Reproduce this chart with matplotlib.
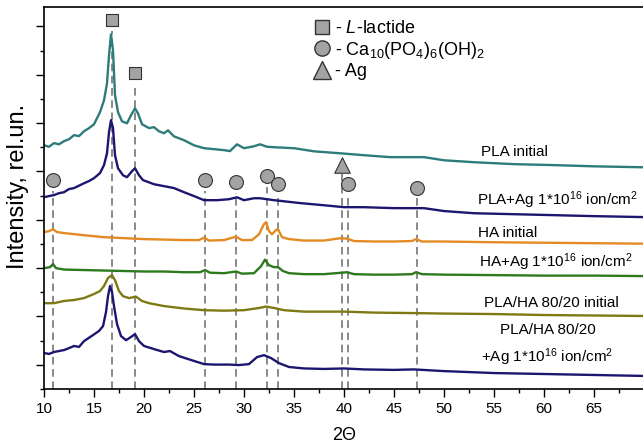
import matplotlib
matplotlib.use('Agg')
import matplotlib.pyplot as plt
from matplotlib.lines import Line2D

plt.rcParams['font.family'] = ['Liberation Sans', 'DejaVu Sans']
plt.rcParams['mathtext.fontset'] = 'custom'
plt.rcParams['mathtext.rm'] = 'Liberation Sans'
plt.rcParams['mathtext.it'] = 'Liberation Sans:italic'

# PLA initial
x_pla = [10.0, 10.5, 11.0, 11.5, 12.0, 12.5, 13.0, 13.5, 14.0, 14.5, 15.0, 15.6, 16.0, 16.3,
         16.5, 16.7, 16.9, 17.1, 17.4, 17.8, 18.3, 18.7, 19.1, 19.4, 19.8, 20.5, 21.0, 21.5,
         22.0, 22.4, 23.0, 24.0, 25.0, 26.0, 27.0, 28.0, 28.6, 29.3, 30.0, 31.0, 31.6, 32.3,
         33.0, 35.0, 37.0, 39.6, 42.0, 44.6, 48.0, 50.0, 53.0, 57.0, 61.0, 65.0, 70.0]
y_pla = [10.08, 10.02, 10.17, 10.12, 10.25, 10.33, 10.50, 10.46, 10.66, 10.79, 10.95, 11.45, 11.94, 12.64,
         13.80, 14.67, 14.01, 12.15, 11.45, 11.07, 10.99, 11.32, 11.61, 11.40, 10.95, 10.79, 10.83, 10.66,
         10.58, 10.70, 10.45, 10.29, 10.08, 9.96, 9.92, 9.88, 9.84, 10.12, 9.96, 10.04, 10.12, 10.02,
         10.00, 9.96, 9.83, 9.75, 9.67, 9.59, 9.59, 9.46, 9.38, 9.30, 9.26, 9.21, 9.17]

# PLA + Ag
x_pla_ag = [10.0, 10.5, 11.0, 11.5, 12.0, 12.5, 13.0, 14.0, 14.5, 15.0, 15.6, 16.0, 16.3, 16.5,
            16.7, 16.9, 17.1, 17.4, 17.9, 18.3, 18.8, 19.1, 19.5, 19.9, 21.0, 22.0, 23.0, 24.0,
            25.0, 26.0, 27.3, 28.5, 29.3, 30.0, 31.0, 31.6, 33.0, 35.6, 38.0, 40.0, 42.0, 45.0,
            48.0, 50.0, 53.0, 57.0, 61.0, 65.0, 70.0]
y_pla_ag = [7.93, 7.98, 8.02, 8.10, 8.14, 8.27, 8.31, 8.51, 8.60, 8.72, 8.93, 9.26, 9.75, 10.62,
            11.12, 10.79, 9.67, 9.13, 8.84, 8.76, 9.01, 9.13, 8.84, 8.64, 8.47, 8.39, 8.31, 8.14,
            7.98, 7.81, 7.81, 7.85, 7.93, 7.81, 7.89, 7.89, 7.81, 7.69, 7.60, 7.52, 7.52, 7.48,
            7.48, 7.36, 7.27, 7.23, 7.19, 7.15, 7.11]

# HA initial
x_ha = [10.0, 10.5, 10.9, 11.3, 12.0, 14.0, 16.0, 18.0, 20.0, 22.0, 24.0, 25.5, 26.0, 26.5,
        28.0, 29.2, 29.8, 30.8, 31.5, 32.0, 32.2, 32.5, 32.8, 33.2, 33.4, 33.8, 34.5, 36.0,
        38.0, 39.7, 40.3, 41.0, 43.0, 45.0, 46.8, 47.2, 47.8, 50.0, 55.0, 60.0, 65.0, 70.0]
y_ha = [6.49, 6.53, 6.61, 6.49, 6.45, 6.36, 6.28, 6.24, 6.20, 6.18, 6.16, 6.16, 6.26, 6.14,
        6.16, 6.30, 6.16, 6.16, 6.40, 6.82, 6.90, 6.53, 6.40, 6.57, 6.61, 6.28, 6.20, 6.14,
        6.14, 6.24, 6.22, 6.12, 6.10, 6.10, 6.12, 6.20, 6.10, 6.10, 6.07, 6.05, 6.03, 6.01]

# HA + Ag
x_ha_ag = [10.0, 10.6, 10.9, 11.2, 12.0, 14.0, 16.0, 18.0, 20.0, 22.0, 24.0, 25.6, 26.1, 26.6,
           28.0, 29.2, 29.8, 31.0, 31.7, 32.1, 32.5, 33.0, 33.4, 33.9, 34.5, 36.0, 38.0, 39.8,
           40.3, 41.0, 43.0, 45.0, 46.8, 47.2, 47.8, 50.0, 55.0, 60.0, 65.0, 70.0]
y_ha_ag = [5.00, 5.04, 5.17, 5.00, 4.94, 4.92, 4.90, 4.88, 4.86, 4.86, 4.83, 4.83, 4.92, 4.81,
           4.79, 4.86, 4.77, 4.79, 5.08, 5.35, 5.12, 5.04, 5.04, 4.88, 4.79, 4.75, 4.75, 4.81,
           4.83, 4.75, 4.73, 4.73, 4.75, 4.83, 4.75, 4.73, 4.71, 4.69, 4.69, 4.67]

# PLA/HA 80/20 initial
x_mix = [10.0, 11.0, 12.0, 13.0, 14.0, 15.0, 15.6, 16.0, 16.4, 16.8, 17.1, 17.5, 17.9, 18.5,
         19.2, 19.8, 20.5, 22.0, 24.0, 26.0, 28.0, 30.0, 31.5, 32.2, 33.0, 34.0, 36.0, 38.0,
         40.0, 43.0, 47.0, 50.0, 55.0, 60.0, 65.0, 70.0]
y_mix = [3.55, 3.55, 3.64, 3.68, 3.76, 3.93, 4.05, 4.26, 4.59, 4.71, 4.50, 4.05, 3.84, 3.76,
         3.82, 3.64, 3.55, 3.43, 3.33, 3.26, 3.24, 3.26, 3.35, 3.41, 3.35, 3.26, 3.20, 3.20,
         3.20, 3.16, 3.14, 3.12, 3.10, 3.06, 3.04, 3.02]

# PLA/HA 80/20 + Ag
x_mix_ag = [10.0, 10.5, 11.0, 11.5, 12.0, 12.5, 13.0, 13.5, 14.0, 14.9, 15.5, 15.9, 16.2, 16.4,
            16.6, 16.8, 17.0, 17.3, 17.7, 18.2, 18.7, 19.1, 19.5, 20.0, 21.0, 22.0, 22.6, 23.5,
            25.0, 26.0, 27.0, 28.5, 29.5, 30.5, 31.3, 32.0, 32.7, 33.5, 34.5, 36.0, 38.0, 40.0,
            42.0, 45.0, 47.0, 50.0, 55.0, 60.0, 65.0, 70.0]
y_mix_ag = [1.49, 1.45, 1.53, 1.57, 1.61, 1.69, 1.78, 1.74, 1.98, 2.23, 2.40, 2.60, 3.18, 3.84,
            4.26, 4.01, 3.43, 2.69, 2.19, 2.02, 2.15, 2.27, 1.98, 1.78, 1.65, 1.53, 1.57, 1.36,
            1.16, 1.03, 1.01, 1.01, 0.99, 1.03, 1.32, 1.40, 1.28, 1.07, 0.91, 0.85, 0.83, 0.85,
            0.81, 0.79, 0.81, 0.74, 0.66, 0.62, 0.58, 0.54]

# phase markers: position (2theta) and marker height
lactide_pos = [16.75, 19.1]
lactide_h = [15.27, 13.07]
ha_pos = [10.9, 26.1, 29.15, 32.25, 33.35, 40.4, 47.25]
ha_h = [8.66, 8.64, 8.57, 8.82, 8.49, 8.47, 8.33]
ag_pos = [39.8]
ag_h = [9.26]

curve_labels = ['PLA initial',
                'PLA+Ag 1*10$^{16}$ ion/cm$^2$',
                'HA initial',
                'HA+Ag 1*10$^{16}$ ion/cm$^2$',
                'PLA/HA 80/20 initial',
                'PLA/HA 80/20\n+Ag 1*10$^{16}$ ion/cm$^2$']
label_x = [57.0, 61.4, 56.35, 61.15, 60.7, 60.35]
label_y = [9.79, 7.81, 6.46, 5.26, 3.57, 1.78]

navy = '#1c1670'
colors = ['#2e7b7b', navy, '#e38b22', '#2d7a1e', '#7d7a14', navy]
series = [(x_pla, y_pla), (x_pla_ag, y_pla_ag), (x_ha, y_ha),
          (x_ha_ag, y_ha_ag), (x_mix, y_mix), (x_mix_ag, y_mix_ag)]

fig = plt.figure(figsize=(6.43, 4.45), dpi=100)
ax = fig.add_axes([44 / 643, 56 / 445, 600 / 643, 382 / 445])

marker_fill = '#a3a3a3'
marker_edge = '#333333'
dash_color = '#6a6a6a'

# dashed drop lines from each marker down to the axis
gap = 0.45
ax.vlines(lactide_pos, 0, [h - gap for h in lactide_h], colors=dash_color,
          linestyles=(0, (5, 3)), linewidth=1.1, zorder=1)
ax.vlines(ha_pos, 0, [h - gap for h in ha_h], colors=dash_color,
          linestyles=(0, (5, 3)), linewidth=1.1, zorder=1)
ax.vlines(ag_pos, 0, [h - 0.35 for h in ag_h], colors=dash_color,
          linestyles=(0, (5, 3)), linewidth=1.1, zorder=1)

for (xs, ys), c in zip(series, colors):
    ax.plot(xs, ys, color=c, linewidth=1.7, zorder=2)

ax.scatter(lactide_pos, lactide_h, marker='s', s=85, facecolor=marker_fill,
           edgecolor=marker_edge, linewidth=0.8, zorder=3)
ax.scatter(ha_pos, ha_h, marker='o', s=100, facecolor=marker_fill,
           edgecolor=marker_edge, linewidth=0.8, zorder=3)
ax.scatter(ag_pos, ag_h, marker='^', s=125, facecolor=marker_fill,
           edgecolor=marker_edge, linewidth=0.8, zorder=3)

for txt, lx, ly in zip(curve_labels, label_x, label_y):
    ax.text(lx, ly, txt, fontsize=11, ha='center', va='center', linespacing=1.6)

# legend of phases
handles = [Line2D([], [], linestyle='none', marker='s', markersize=10,
                  markerfacecolor=marker_fill, markeredgecolor=marker_edge),
           Line2D([], [], linestyle='none', marker='o', markersize=11,
                  markerfacecolor=marker_fill, markeredgecolor=marker_edge),
           Line2D([], [], linestyle='none', marker='^', markersize=13,
                  markerfacecolor=marker_fill, markeredgecolor=marker_edge)]
names = [r'- $\mathit{L}$-lactide', r'- Ca$_{10}$(PO$_4$)$_6$(OH)$_2$', '- Ag']
ax.legend(handles, names, loc='upper left', bbox_to_anchor=(0.44, 0.985),
          frameon=False, fontsize=13, handlelength=0.8, handletextpad=0.3,
          labelspacing=0.15, borderaxespad=0)

ax.set_xlim(10, 70)
ax.set_ylim(0, 15.8)
ax.set_xticks(range(10, 70, 5))
ax.set_xticks([12.5 + 5 * i for i in range(12)], minor=True)
ax.set_yticks(range(1, 16, 2))
ax.set_yticks(range(0, 16, 2), minor=True)
ax.set_yticklabels([])
ax.tick_params(which='major', length=6, width=1, labelsize=11, direction='out')
ax.tick_params(which='minor', length=3, width=1, direction='out')
for sp in ax.spines.values():
    sp.set_linewidth(1.2)

ax.set_xlabel('2Θ', fontsize=13, labelpad=8)
ax.set_ylabel('Intensity, rel.un.', fontsize=17)
ax.yaxis.set_label_coords(-0.025, 0.53)

fig.savefig('out.png', dpi=100)
